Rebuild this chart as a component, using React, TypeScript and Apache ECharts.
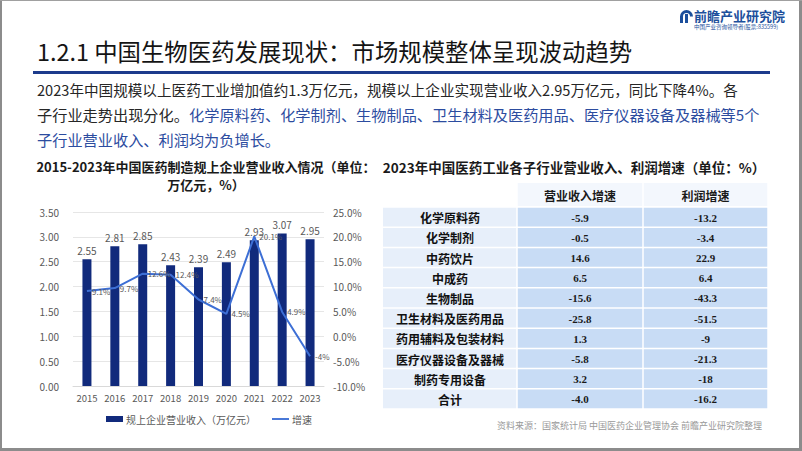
import React, { useEffect, useRef } from "react";
import * as echarts from "echarts";

const years = ["2015", "2016", "2017", "2018", "2019", "2020", "2021", "2022", "2023"];
const revenue = [2.55, 2.81, 2.85, 2.43, 2.39, 2.49, 2.93, 3.07, 2.95];
const growth = [9.1, 9.7, 12.6, 12.4, 7.4, 4.5, 20.1, 4.9, -4];

const leftTicks = { min: 0, max: 3.5, interval: 0.5 };
const rightTicks = { min: -10, max: 25, interval: 5 };

const tableHeaders = ["营业收入增速", "利润增速"];
const subIndustries = [
  "化学原料药",
  "化学制剂",
  "中药饮片",
  "中成药",
  "生物制品",
  "卫生材料及医药用品",
  "药用辅料及包装材料",
  "医疗仪器设备及器械",
  "制药专用设备",
  "合计",
];
const revenueGrowth = ["-5.9", "-0.5", "14.6", "6.5", "-15.6", "-25.8", "1.3", "-5.8", "3.2", "-4.0"];
const profitGrowth = ["-13.2", "-3.4", "22.9", "6.4", "-43.3", "-51.5", "-9", "-21.3", "-18", "-16.2"];

const CJK = '"Noto Sans CJK SC", "Noto Sans", sans-serif';

function txt(text: string, x: number, y: number, font: string, fill: string, align = "left", extra: any = {}) {
  return {
    type: "text",
    x,
    y,
    silent: true,
    style: {
      text,
      font,
      fill,
      textAlign: align,
      align,
      textVerticalAlign: "middle",
      verticalAlign: "middle",
      ...extra,
    },
  };
}

function buildTable() {
  const els: any[] = [];
  const colX = [383, 517, 643, 768];
  const headTop = 183;
  const headH = 23;
  const rowTop = 207;
  const rowH = 20.2;
  const gap = 1.5;
  for (let c = 1; c < 3; c++) {
    els.push({
      type: "rect",
      silent: true,
      shape: { x: colX[c] + gap / 2, y: headTop, width: colX[c + 1] - colX[c] - gap, height: headH },
      style: { fill: "#f3f7fd" },
    });
    els.push(
      txt(tableHeaders[c - 1], (colX[c] + colX[c + 1]) / 2, headTop + headH / 2 + 0.5, `bold 12px ${CJK}`, "#1a1a1a", "center")
    );
  }
  subIndustries.forEach((name, r) => {
    const y = rowTop + r * rowH;
    const fills = ["#e7effa", "#c8dcf5", "#c8dcf5"];
    for (let c = 0; c < 3; c++) {
      els.push({
        type: "rect",
        silent: true,
        shape: {
          x: colX[c] + (c === 0 ? 0 : gap / 2),
          y: y + gap / 2,
          width: colX[c + 1] - colX[c] - (c === 0 ? gap / 2 : gap),
          height: rowH - gap,
        },
        style: { fill: fills[c] },
      });
    }
    const cy = y + rowH / 2 + 0.5;
    els.push(txt(name, (colX[0] + colX[1]) / 2, cy, `bold 12px ${CJK}`, "#111111", "center"));
    els.push(txt(revenueGrowth[r], (colX[1] + colX[2]) / 2, cy, 'bold 11px "Liberation Serif", "DejaVu Serif", serif', "#1a1a1a", "center"));
    els.push(txt(profitGrowth[r], (colX[2] + colX[3]) / 2, cy, 'bold 11px "Liberation Serif", "DejaVu Serif", serif', "#1a1a1a", "center"));
  });
  return els;
}

export default function App() {
  const ref = useRef<HTMLDivElement>(null);
  useEffect(() => {
    document.body.style.margin = "0";
    const chart = echarts.init(ref.current!, null, { renderer: "svg" });
    const blue = "#2c4c9f";
    const lineColor = "#3d6fd5";
    const option: any = {
      animation: false,
      backgroundColor: "#ffffff",
      grid: { left: 73, right: 478, top: 212, bottom: 65, containLabel: false },
      legend: {
        left: 101,
        top: 409,
        itemWidth: 17,
        itemHeight: 6,
        itemGap: 16,
        textStyle: { fontSize: 10, color: "#595959", fontFamily: CJK, padding: [0, 0, 0, -2] },
        data: [
          { name: "规上企业营业收入（万亿元）", icon: "rect" },
          { name: "增速", icon: "path://M0,0L20,0L20,2.2L0,2.2Z", itemStyle: { color: lineColor } },
        ],
      },
      xAxis: {
        type: "category",
        data: years,
        axisTick: { show: false },
        axisLine: { show: true, lineStyle: { color: "#d9d9d9" } },
        axisLabel: { fontSize: 9.5, color: "#595959", margin: 7, fontFamily: CJK },
      },
      yAxis: [
        {
          type: "value",
          ...leftTicks,
          axisLine: { show: false },
          axisTick: { show: false },
          splitLine: { lineStyle: { color: "#e6e6e6" } },
          axisLabel: { fontSize: 10, color: "#595959", margin: 14, formatter: (v: number) => v.toFixed(2), fontFamily: CJK },
        },
        {
          type: "value",
          ...rightTicks,
          axisLine: { show: false },
          axisTick: { show: false },
          splitLine: { show: false },
          axisLabel: { fontSize: 10, color: "#595959", margin: 9, formatter: (v: number) => v.toFixed(1) + "%", fontFamily: CJK },
        },
      ],
      series: [
        {
          name: "规上企业营业收入（万亿元）",
          type: "bar",
          data: revenue,
          barWidth: 9,
          itemStyle: { color: "#112a7c" },
          label: {
            show: true,
            position: "top",
            distance: 4,
            fontSize: 10,
            color: "#595959",
            fontFamily: CJK,
            formatter: (p: any) => Number(p.value).toFixed(2),
          },
        },
        {
          name: "增速",
          type: "line",
          yAxisIndex: 1,
          data: growth,
          symbol: "none",
          lineStyle: { color: lineColor, width: 2 },
          itemStyle: { color: lineColor },
          z: 5,
        },
        {
          name: "增速标签",
          type: "scatter",
          yAxisIndex: 1,
          data: growth,
          symbolSize: 2,
          itemStyle: { color: "rgba(0,0,0,0)" },
          z: 6,
          silent: true,
          label: {
            show: true,
            position: "right",
            distance: 4,
            fontSize: 8,
            color: "#595959",
            opacity: 1,
            fontFamily: CJK,
            formatter: (p: any) => p.value + "%",
          },
        },
      ],
      graphic: [
        { type: "rect", silent: true, shape: { x: 0, y: 0, width: 2, height: 451 }, style: { fill: "#8c8c8c" } },
        { type: "rect", silent: true, shape: { x: 799, y: 0, width: 3, height: 451 }, style: { fill: "#8c8c8c" } },
        { type: "rect", silent: true, shape: { x: 0, y: 0, width: 802, height: 1 }, style: { fill: "#a0a0a0" } },
        { type: "rect", silent: true, shape: { x: 0, y: 448, width: 802, height: 3 }, style: { fill: "#8c8c8c" } },
        // logo
        { type: "arc", silent: true, shape: { cx: 686.5, cy: 16.5, r: 5, startAngle: Math.PI, endAngle: Math.PI * 2 }, style: { stroke: "#1c4f9c", lineWidth: 3, fill: "none" } },
        { type: "rect", silent: true, shape: { x: 685, y: 14, width: 3, height: 9 }, style: { fill: "#1c4f9c" } },
        { type: "rect", silent: true, shape: { x: 680, y: 16, width: 3, height: 7 }, style: { fill: "#1c4f9c" } },
        txt("前瞻产业研究院", 694, 15, `bold 13px ${CJK}`, "#1c4f9c", "left"),
        txt("中国产业咨询领导者(股票:835599)", 694, 27, `5.5px ${CJK}`, "#1c4f9c", "left"),
        // title
        txt("1.2.1 中国生物医药发展现状：市场规模整体呈现波动趋势", 37, 51, `23.4px ${CJK}`, "#141414", "left"),
        { type: "rect", silent: true, shape: { x: 33, y: 71, width: 737, height: 3 }, style: { fill: "#1d3b8c" } },
        // body
        txt("2023年中国规模以上医药工业增加值约1.3万亿元，规模以上企业实现营业收入2.95万亿元，同比下降4%。各", 37, 89, `14.6px ${CJK}`, "#262626", "left"),
        txt("子行业走势出现分化。", 37, 114, `15.2px ${CJK}`, "#262626", "left"),
        txt("化学原料药、化学制剂、生物制品、卫生材料及医药用品、医疗仪器设备及器械等5个", 189, 114, `15.2px ${CJK}`, blue, "left"),
        txt("子行业营业收入、利润均为负增长。", 37, 139, `15.2px ${CJK}`, blue, "left"),
        // chart title
        txt("2015-2023年中国医药制造规上企业营业收入情况（单位：", 206, 166, `bold 13px ${CJK}`, "#1a1a1a", "center"),
        txt("万亿元，%）", 206, 184, `bold 13px ${CJK}`, "#1a1a1a", "center"),
        // table title
        txt("2023年中国医药工业各子行业营业收入、利润增速（单位：%）", 574, 167, `bold 13.5px ${CJK}`, "#1a1a1a", "center"),
        ...buildTable(),
        // source
        txt("资料来源：国家统计局 中国医药企业管理协会 前瞻产业研究院整理", 762, 425, `9px ${CJK}`, "#999999", "right"),
      ],
    };
    chart.setOption(option);
    return () => chart.dispose();
  }, []);
  return <div ref={ref} style={{ position: "absolute", left: 0, top: 0, width: 802, height: 451 }} />;
}
